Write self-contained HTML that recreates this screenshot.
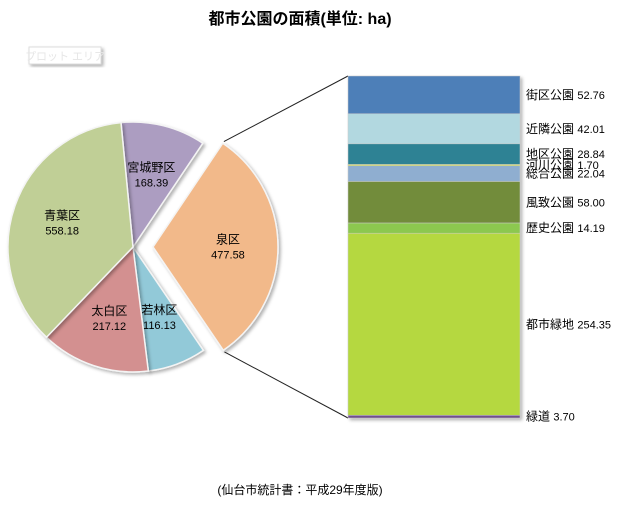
<!DOCTYPE html>
<html><head><meta charset="utf-8"><style>
body{margin:0;background:#fff;width:629px;height:508px;overflow:hidden;font-family:"Liberation Sans","Noto Sans CJK JP",sans-serif;}
</style></head><body>
<svg width="629" height="508" xmlns="http://www.w3.org/2000/svg" font-family="Liberation Sans, Noto Sans CJK JP, sans-serif">
<defs><filter id="sh" x="-10%" y="-10%" width="130%" height="130%"><feDropShadow dx="2" dy="2" stdDeviation="1.5" flood-color="#000" flood-opacity="0.3"/></filter></defs>
<text x="300" y="24" text-anchor="middle" font-size="16" font-weight="bold" fill="#000">都市公園の面積(単位: ha)</text>
<g>
<rect x="29" y="47" width="72" height="17" fill="#fff" stroke="#ddd" filter="url(#sh)"/>
<text x="65" y="60" text-anchor="middle" font-size="11" fill="#e6e6e6">プロット エリア</text>
</g>
<g id="pie"></g>
<g id="bar"></g>
<text x="300" y="494" text-anchor="middle" font-size="12" fill="#000">(仙台市統計書：平成29年度版)</text>
</svg>
<script>
const wards=["宮城野区","泉区","若林区","太白区","青葉区"];
const wardValues=[168.39,477.58,116.13,217.12,558.18];
const wardColors=["#ac9dc1","#f2b98a","#92c9d8","#d39090","#c0cf96"];
const parks=["街区公園","近隣公園","地区公園","河川公園","総合公園","風致公園","歴史公園","都市緑地","緑道"];
const parkValues=[52.76,42.01,28.84,1.70,22.04,58.00,14.19,254.35,3.70];
const parkColors=["#4e7fb8","#b2d8e0","#2e8294","#d4df3a","#8faed0","#728c3a","#8cc850","#b5d840","#6f4f8c"];
const NS="http://www.w3.org/2000/svg";
function mk(t,a,p){const e=document.createElementNS(NS,t);for(const k in a)e.setAttribute(k,a[k]);p.appendChild(e);return e;}
const pie=document.getElementById('pie');
const cx=133,cy=247,r=125,start=-5.5,explodeIdx=1,explode=20;
const tot=wardValues.reduce((a,b)=>a+b,0);
let ang=start;let expl=null;
function pt(x,y,a,rr){const t=a*Math.PI/180;return [x+rr*Math.sin(t),y-rr*Math.cos(t)];}
wardValues.forEach((v,i)=>{
 const span=v/tot*360,a0=ang,a1=ang+span,mid=a0+span/2;ang=a1;
 let ox=cx,oy=cy;
 if(i===explodeIdx){[ox,oy]=pt(cx,cy,mid,explode);expl={ox,oy,a0,a1};}
 const p0=pt(ox,oy,a0,r),p1=pt(ox,oy,a1,r);
 const path=mk('path',{d:`M${ox},${oy}L${p0[0]},${p0[1]}A${r},${r} 0 ${span>180?1:0} 1 ${p1[0]},${p1[1]}Z`,fill:wardColors[i],stroke:'#f4f4f4','stroke-width':1.5,filter:'url(#sh)'},pie);
 
 
 const lp=pt(ox,oy,mid,r*0.6);
 const t1=mk('text',{x:lp[0],y:lp[1]-3,'text-anchor':'middle','font-size':12,fill:'#000'},pie);t1.textContent=wards[i];
 
 
 const t2=mk('text',{x:lp[0],y:lp[1]+12,'text-anchor':'middle','font-size':11,fill:'#000'},pie);t2.textContent=wardValues[i].toFixed(2);
 
 
});
const bar=document.getElementById('bar');
const bx=348,bw=172,by=76,bh=342;
const ptot=parkValues.reduce((a,b)=>a+b,0);
const e0=pt(expl.ox,expl.oy,expl.a0,r+2),e1=pt(expl.ox,expl.oy,expl.a1,r+2);
let l=mk('line',{x1:e0[0],y1:e0[1],x2:bx,y2:by,stroke:'#222','stroke-width':1},bar);


l=mk('line',{x1:e1[0],y1:e1[1],x2:bx,y2:by+bh,stroke:'#222','stroke-width':1},bar);


let acc=0;
const bg=mk('g',{filter:'url(#sh)'},bar);
parkValues.forEach((v,i)=>{
 const y0=by+acc/ptot*bh,h=v/ptot*bh;acc+=v;
 const rc=mk('rect',{x:bx,y:y0,width:bw,height:Math.max(h,1),fill:parkColors[i],stroke:'#ccc','stroke-width':0.5},bg);
 
 
 const t=mk('text',{x:526,y:y0+h/2+4,'font-size':11,fill:'#000'},bar);
 
 
 const s1=mk('tspan',{'font-size':12},t);s1.textContent=parks[i]+' ';
 const s2=mk('tspan',{},t);s2.textContent=v.toFixed(2);
});
</script>
</body></html>
